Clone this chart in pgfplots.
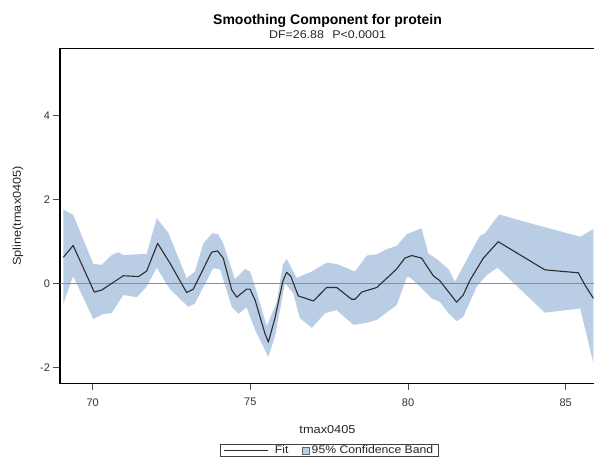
\documentclass[border=0pt]{standalone}
\usepackage{pgfplots}
\pgfplotsset{compat=1.18}
\usepackage{fontspec}
\setmainfont{Liberation Sans}
\newfontfamily\widefont[FakeStretch=1.11]{Liberation Sans}
\definecolor{bandblue}{RGB}{185,205,229}
\definecolor{fitcol}{RGB}{45,45,45}
\definecolor{zerocol}{RGB}{140,140,140}
\begin{document}
\begin{tikzpicture}
\useasboundingbox (-60pt,-73.7pt) rectangle (534pt,383.3pt);
\begin{axis}[
  at={(0pt,0pt)}, anchor=south west,
  scale only axis, width=535pt, height=334.8pt,
  xmin=68.963, xmax=85.93, ymin=-2.381, ymax=5.59,
  xtick={70,75,80,85}, ytick={-2,0,2,4},
  tick align=outside, tick pos=left,
  major tick length=6.5pt,
  axis line style={black, line width=1.1pt},
  tick style={black!70, line width=0.8pt},
  /pgf/number format/assume math mode=true,
  ticklabel style={font=\fontsize{11}{13}\selectfont, text=black!80},
  xticklabel style={yshift=-5pt},
  xlabel={tmax0405},
  xlabel style={at={(axis description cs:0.5,0)}, anchor=base, yshift=-50pt, font=\widefont\fontsize{11.5}{13}\selectfont, text=black!85},
  ylabel={Spline(tmax0405)},
  ylabel style={at={(axis description cs:0,0.5)}, anchor=center, yshift=42pt, font=\widefont\fontsize{11.5}{13}\selectfont, text=black!85},
  legend columns=-1,
  legend style={at={(axis description cs:0.504,-0.1825)}, anchor=north,
    draw=black!75, line width=0.6pt, inner xsep=3pt, inner ysep=0.3pt,
    font=\widefont\fontsize{11}{12}\selectfont, text=black!85,
    nodes={inner xsep=2.5pt, inner ysep=0.5pt, text height=8.2pt, text depth=2pt},
    /tikz/every even column/.append style={column sep=11pt}},
]
\addplot[fill=bandblue, draw=none, forget plot] coordinates {
(69.07,1.76) (69.38,1.63) (70.02,0.46) (70.29,0.44) (70.60,0.67) (70.81,0.74)
(70.97,0.67) (71.40,0.69) (71.71,0.70) (72.03,1.55) (72.40,1.20) (72.98,0.12)
(73.24,0.28) (73.51,0.95) (73.79,1.19) (73.98,1.17) (74.14,0.95) (74.51,0.10)
(74.83,0.34) (74.99,0.28) (75.15,-0.08) (75.52,-1.02) (75.84,-0.44) (76.03,0.44)
(76.15,0.58) (76.47,0.13) (76.95,0.28) (77.42,0.49) (77.74,0.46) (78.32,0.28)
(78.69,0.66) (79.01,0.69) (79.32,0.81) (79.64,0.89) (79.96,1.17) (80.43,1.31)
(80.64,0.71) (80.91,0.58) (81.28,0.34) (81.49,0.04) (81.97,0.71) (82.28,1.13)
(82.44,1.19) (82.89,1.64) (83.87,1.43) (85.46,1.11) (85.88,1.29)
(85.88,-1.90) (85.46,-0.60) (84.34,-0.70) (82.84,0.37) (82.50,0.20) (82.18,-0.08)
(81.75,-0.80) (81.54,-0.90) (81.28,-0.71) (81.01,-0.44) (80.75,-0.36) (80.38,-0.08)
(80.06,0.14) (79.96,0.14) (79.64,-0.52) (79.01,-0.87) (78.69,-0.94) (78.27,-0.99)
(77.74,-0.64) (77.37,-0.71) (76.95,-1.06) (76.57,-0.83) (76.36,-0.24) (76.10,0.01)
(75.78,-1.27) (75.57,-1.75) (75.15,-1.11) (74.88,-0.57) (74.62,-0.73) (74.41,-0.56)
(74.04,0.33) (73.82,0.36) (73.24,-0.48) (73.03,-0.56) (72.45,-0.14) (72.03,0.37)
(71.71,-0.08) (71.40,-0.33) (70.97,-0.28) (70.60,-0.71) (70.34,-0.73) (70.02,-0.85)
(69.38,0.17) (69.07,-0.48)
} -- cycle;
\addplot[zerocol, line width=0.8pt, forget plot] coordinates {(68.963,0) (85.93,0)};
\addplot[fitcol, line width=1.1pt, line join=round,
  legend image code/.code={\draw[fitcol, line width=0.8pt] (0pt,0pt) -- (44pt,0pt); \path (48pt,0pt);}] coordinates {
(69.07,0.62) (69.38,0.90) (70.05,-0.21) (70.29,-0.16) (70.97,0.18) (71.45,0.16)
(71.71,0.29) (72.06,0.95) (72.45,0.48) (72.98,-0.22) (73.19,-0.14) (73.77,0.74)
(73.96,0.77) (74.14,0.60) (74.41,-0.16) (74.57,-0.33) (74.88,-0.14) (74.99,-0.14)
(75.15,-0.40) (75.46,-1.19) (75.57,-1.40) (75.78,-0.83) (76.03,0.05) (76.15,0.26)
(76.28,0.17) (76.52,-0.30) (77.00,-0.42) (77.42,-0.10) (77.74,-0.10) (78.21,-0.38)
(78.32,-0.38) (78.53,-0.21) (79.01,-0.10) (79.64,0.34) (79.90,0.60) (80.12,0.66)
(80.43,0.60) (80.80,0.18) (81.01,0.06) (81.54,-0.45) (81.75,-0.28) (81.97,0.08)
(82.39,0.60) (82.86,0.99) (84.34,0.32) (85.40,0.25) (85.61,-0.04) (85.88,-0.36)
};
\addlegendentry{Fit}
\addlegendimage{legend image code/.code={\draw[fill=bandblue, draw=black!60, line width=0.6pt] (0pt,-3.3pt) rectangle (6.6pt,3.3pt);}}
\addlegendentry{95\% Confidence Band}
\end{axis}
\node[anchor=base, font=\bfseries\fontsize{14}{16}\selectfont] at (267.5pt,358.3pt) {Smoothing Component for protein};
\node[anchor=base, font=\widefont\fontsize{11.2}{13}\selectfont, text=black!85] at (267.5pt,344.8pt) {DF=26.88\hspace{0.75em}P<0.0001};
\end{tikzpicture}
\end{document}
